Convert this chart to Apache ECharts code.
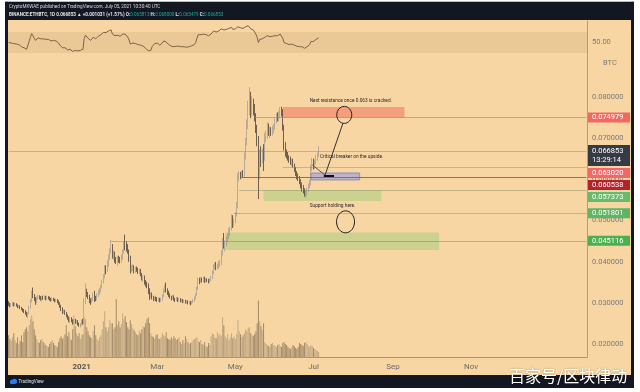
<!DOCTYPE html>
<html><head><meta charset="utf-8">
<script src="https://cdn.jsdelivr.net/npm/echarts@6/dist/echarts.min.js"></script>
<style>html,body{margin:0;padding:0;background:#fff}#c{width:640px;height:392px}</style>
</head><body><div id="c"></div>
<script>
// ---------- DATA ----------
const firstDate = '2020-11-05';
const axisDays = 452; // axis runs to 2022-01-30
const monthLabels = {'2021-01-01':'2021','2021-03-01':'Mar','2021-05-01':'May','2021-07-01':'Jul','2021-09-01':'Sep','2021-11-01':'Nov'};

// daily candles [open, close, low, high]
const nov = [[.0302,.0298,.0293,.0305],[.0298,.0295,.0290,.0301],[.0295,.0297,.0291,.0300],[.0297,.0300,.0294,.0303],[.0300,.0296,.0292,.0302],[.0296,.0298,.0293,.0301],[.0298,.0295,.0292,.0300],[.0295,.0291,.0288,.0297],[.0291,.0293,.0288,.0296],[.0293,.0289,.0286,.0295],[.0289,.0286,.0283,.0291],[.0286,.0283,.0279,.0288],[.0283,.0280,.0276,.0286],[.0280,.0276,.0272,.0283],[.0276,.0271,.0267,.0279],[.0271,.0275,.0264,.0278],[.0275,.0290,.0273,.0294],[.0290,.0305,.0287,.0310],[.0305,.0326,.0302,.0330],[.0326,.0318,.0312,.0338],[.0318,.0310,.0305,.0322],[.0310,.0302,.0296,.0315],[.0302,.0312,.0300,.0316],[.0312,.0316,.0308,.0320],[.0316,.0313,.0309,.0319],[.0313,.0310,.0306,.0317]];
const dec = [[.0310,.0314,.0305,.0318],[.0314,.0312,.0308,.0318],[.0312,.0315,.0309,.0319],[.0315,.0311,.0307,.0318],[.0311,.0314,.0308,.0317],[.0314,.0313,.0309,.0317],[.0313,.0310,.0306,.0316],[.0310,.0308,.0304,.0313],[.0308,.0311,.0305,.0314],[.0311,.0309,.0305,.0313],[.0309,.0306,.0302,.0311],[.0306,.0308,.0303,.0311],[.0308,.0304,.0300,.0310],[.0304,.0300,.0296,.0307],[.0300,.0293,.0289,.0302],[.0293,.0286,.0281,.0296],[.0286,.0278,.0274,.0290],[.0278,.0281,.0275,.0285],[.0281,.0276,.0272,.0284],[.0276,.0270,.0266,.0279],[.0270,.0265,.0260,.0273],[.0265,.0258,.0254,.0268],[.0258,.0263,.0252,.0266],[.0263,.0258,.0254,.0266],[.0258,.0252,.0248,.0261],[.0252,.0258,.0249,.0262],[.0258,.0254,.0250,.0262],[.0254,.0256,.0250,.0260],[.0256,.0250,.0246,.0259],[.0250,.0246,.0243,.0253],[.0246,.0249,.0241,.0252]];
const jan = [[.0249,.0256,.0245,.0260],[.0256,.0252,.0248,.0262],[.0252,.0305,.0250,.0312],[.0305,.0330,.0298,.0348],[.0330,.0322,.0315,.0335],[.0322,.0315,.0310,.0327],[.0315,.0306,.0300,.0320],[.0306,.0302,.0296,.0312],[.0302,.0310,.0300,.0314],[.0310,.0318,.0305,.0325],[.0318,.0312,.0303,.0330],[.0312,.0310,.0305,.0318],[.0310,.0320,.0307,.0325],[.0320,.0327,.0315,.0332],[.0327,.0330,.0320,.0337],[.0330,.0340,.0326,.0344],[.0340,.0352,.0336,.0356],[.0352,.0365,.0348,.0370],[.0365,.0385,.0360,.0392],[.0385,.0380,.0370,.0392],[.0380,.0395,.0375,.0405],[.0395,.0410,.0388,.0418],[.0410,.0425,.0405,.0433],[.0425,.0438,.0420,.0453],[.0438,.0415,.0408,.0443],[.0415,.0420,.0405,.0428],[.0420,.0405,.0398,.0425],[.0405,.0400,.0395,.0412],[.0400,.0410,.0390,.0414],[.0410,.0406,.0398,.0415],[.0406,.0402,.0396,.0412]];
const feb = [[.0402,.0412,.0398,.0418],[.0412,.0425,.0405,.0430],[.0425,.0445,.0420,.0450],[.0445,.0440,.0428,.0466],[.0440,.0437,.0425,.0450],[.0437,.0425,.0420,.0443],[.0425,.0410,.0400,.0430],[.0410,.0380,.0372,.0415],[.0380,.0385,.0375,.0392],[.0385,.0388,.0378,.0395],[.0388,.0378,.0372,.0392],[.0378,.0383,.0374,.0388],[.0383,.0381,.0376,.0389],[.0381,.0376,.0371,.0386],[.0376,.0380,.0370,.0384],[.0380,.0370,.0365,.0383],[.0370,.0360,.0355,.0373],[.0360,.0364,.0352,.0368],[.0364,.0350,.0345,.0367],[.0350,.0348,.0340,.0356],[.0348,.0342,.0336,.0352],[.0342,.0330,.0322,.0348],[.0330,.0318,.0308,.0336],[.0318,.0322,.0312,.0326],[.0322,.0314,.0309,.0326],[.0314,.0310,.0305,.0318],[.0310,.0312,.0306,.0316],[.0312,.0311,.0305,.0316]];
const mar = [[.0311,.0308,.0303,.0315],[.0308,.0310,.0304,.0314],[.0310,.0306,.0302,.0313],[.0306,.0309,.0303,.0313],[.0309,.0318,.0306,.0322],[.0318,.0330,.0315,.0335],[.0330,.0338,.0325,.0345],[.0338,.0332,.0326,.0350],[.0332,.0325,.0320,.0336],[.0325,.0320,.0315,.0330],[.0320,.0315,.0311,.0324],[.0315,.0312,.0307,.0318],[.0312,.0316,.0309,.0320],[.0316,.0310,.0306,.0319],[.0310,.0308,.0303,.0313],[.0308,.0312,.0305,.0315],[.0312,.0307,.0303,.0314],[.0307,.0310,.0304,.0313],[.0310,.0306,.0302,.0312],[.0306,.0308,.0303,.0311],[.0308,.0304,.0300,.0310],[.0304,.0306,.0301,.0309],[.0306,.0302,.0299,.0308],[.0302,.0305,.0299,.0308],[.0305,.0301,.0297,.0307],[.0301,.0303,.0298,.0306],[.0303,.0299,.0295,.0305],[.0299,.0303,.0297,.0306],[.0303,.0306,.0300,.0310],[.0306,.0312,.0303,.0316],[.0312,.0320,.0309,.0324]];
const apr = [[.0320,.0335,.0318,.0340],[.0335,.0356,.0332,.0362],[.0356,.0352,.0346,.0362],[.0352,.0358,.0349,.0363],[.0358,.0355,.0350,.0362],[.0355,.0360,.0351,.0365],[.0360,.0354,.0349,.0364],[.0354,.0357,.0350,.0361],[.0357,.0355,.0351,.0360],[.0355,.0352,.0348,.0359],[.0352,.0356,.0349,.0360],[.0356,.0362,.0353,.0366],[.0362,.0375,.0358,.0380],[.0375,.0388,.0370,.0395],[.0388,.0392,.0382,.0398],[.0392,.0386,.0380,.0400],[.0386,.0390,.0382,.0396],[.0390,.0395,.0383,.0402],[.0395,.0398,.0388,.0405],[.0398,.0420,.0392,.0428],[.0420,.0450,.0415,.0458],[.0450,.0438,.0432,.0470],[.0438,.0445,.0425,.0452],[.0445,.0455,.0438,.0462],[.0455,.0462,.0448,.0470],[.0462,.0470,.0455,.0482],[.0470,.0478,.0463,.0485],[.0478,.0508,.0475,.0515],[.0508,.0490,.0482,.0513],[.0490,.0498,.0485,.0505]];
const may = [[.0498,.0515,.0494,.0520],[.0515,.0535,.0510,.0545],[.0535,.0605,.0530,.0615],[.0605,.0612,.0595,.0620],[.0612,.0606,.0600,.0618],[.0606,.0615,.0602,.0620],[.0615,.0610,.0604,.0622],[.0610,.0655,.0606,.0665],[.0655,.0690,.0648,.0700],[.0690,.0730,.0682,.0745],[.0730,.0765,.0722,.0790],[.0765,.0795,.0755,.0823],[.0795,.0760,.0748,.0812],[.0760,.0780,.0752,.0802],[.0780,.0770,.0755,.0795],[.0770,.0752,.0740,.0782],[.0752,.0725,.0712,.0760],[.0725,.0690,.0680,.0732],[.0690,.0612,.0552,.0705],[.0612,.0660,.0600,.0672],[.0660,.0645,.0630,.0680],[.0645,.0668,.0638,.0675],[.0668,.0650,.0620,.0685],[.0650,.0700,.0645,.0712],[.0700,.0705,.0690,.0718],[.0705,.0730,.0698,.0738],[.0730,.0712,.0705,.0735],[.0712,.0718,.0700,.0728],[.0718,.0712,.0705,.0726],[.0712,.0722,.0706,.0730],[.0722,.0728,.0712,.0734]];
const jun = [[.0728,.0740,.0720,.0748],[.0740,.0752,.0735,.0760],[.0752,.0748,.0740,.0762],[.0748,.0755,.0740,.0765],[.0755,.0768,.0748,.0775],[.0768,.0762,.0752,.0776],[.0762,.0725,.0718,.0770],[.0725,.0680,.0670,.0732],[.0680,.0665,.0655,.0690],[.0665,.0660,.0650,.0672],[.0660,.0652,.0645,.0666],[.0652,.0648,.0640,.0658],[.0648,.0640,.0635,.0655],[.0640,.0645,.0632,.0650],[.0645,.0632,.0628,.0650],[.0632,.0625,.0618,.0638],[.0625,.0615,.0608,.0630],[.0615,.0608,.0600,.0620],[.0608,.0602,.0596,.0614],[.0602,.0594,.0588,.0608],[.0594,.0585,.0578,.0600],[.0585,.0578,.0570,.0592],[.0578,.0572,.0566,.0586],[.0572,.0565,.0558,.0578],[.0565,.0568,.0555,.0574],[.0568,.0575,.0560,.0580],[.0575,.0585,.0570,.0590],[.0585,.0590,.0578,.0598],[.0590,.0628,.0585,.0635],[.0628,.0645,.0620,.0652]];
const jul = [[.0645,.0630,.0624,.0650],[.0630,.0640,.0625,.0648],[.0640,.0650,.0636,.0658],[.0650,.065822,.0645,.0665],[.065813,.066853,.065479,.068000]];

// daily volume (thousand ETH)
const volNov = [440,360,320,400,480,340,280,400,260,320,440,300,500,560,600,520,640,760,840,720,560,440,360,300,280,340];
const volDec = [360,300,280,240,220,200,260,300,340,280,240,220,200,300,380,420,360,400,460,640,420,500,380,340,560,840,620,480,420,480,360];
const volJan = [440,460,800,760,600,520,440,400,380,520,640,440,360,320,400,440,560,720,920,600,520,600,740,680,680,560,600,1170,640,720,600];
const volFeb = [660,880,760,820,700,600,560,740,660,580,540,500,460,440,540,480,560,620,600,680,760,800,680,480,420,400,360,440];
const volMar = [460,380,360,400,480,440,420,500,380,360,340,400,360,420,380,340,360,400,300,260,340,280,420,360,300,260,280,300,340,360,380];
const volApr = [400,320,300,340,260,240,300,220,200,280,240,420,480,460,400,380,500,440,460,420,800,640,420,380,460,340,400,480,380,420];
const volMay = [360,460,740,520,460,400,440,480,560,520,580,600,480,440,420,460,520,680,1140,720,620,540,680,300,260,240,220,200,260,280,240];
const volJun = [220,200,240,260,220,200,280,300,260,240,200,180,160,200,240,220,180,160,200,280,260,240,220,280,300,260,220,200,240,220];
const volJul = [180,160,140,120,100];

// RSI(14)
const rsiNov = [50,48,49,51,48,49,47,45,46,44,42,41,40,39,37,40,52,60,67,63,58,54,57,59,58,57];
const rsiDec = [58,57,58,56,57,56,55,53,55,54,52,53,51,49,45,42,40,42,40,38,36,34,37,35,33,36,35,36,34,33,35];
const rsiJan = [38,37,58,64,61,58,55,54,57,60,58,57,60,62,63,65,67,69,71,69,71,72,73,74,66,67,63,62,64,63,62];
const rsiFeb = [64,66,68,66,65,60,55,47,48,49,46,48,47,46,47,45,42,43,40,39,37,34,32,35,42,44,48,50];
const rsiMar = [49,47,45,46,49,53,55,51,48,46,44,43,45,42,41,43,42,43,41,42,40,42,40,41,39,42,41,44,45,46,50];
const rsiApr = [58,65,63,65,64,66,64,65,64,63,65,66,69,72,72,70,71,72,73,76,78,74,75,75,76,77,76,79,75,76];
const rsiMay = [76,77,80,79,78,79,77,78,80,81,82,83,76,78,74,70,66,60,50,56,54,57,55,60,60,63,60,61,60,62,62];
const rsiJun = [63,64,63,64,66,65,58,50,49,48,47,46,45,47,44,45,44,43,44,42,41,42,40,39,40,42,44,46,52,55];
const rsiJul = [52,54,56,57,59];

// price tags on the axis
const tags = [
  {v:0.074979, color:'#ef6a63'},
  {v:0.066853, color:'#363a45', sub:'13:29:14'},
  {v:0.063020, color:'#f06868'},
  {v:0.060538, color:'#b3222d'},
  {v:0.057373, color:'#69ba6c'},
  {v:0.051801, color:'#5fb564'},
  {v:0.045116, color:'#4caf50'}
];
// drawn horizontal rays [price, start date, colour]
const rays = [
  [0.074979,'2021-05-16','rgba(200,110,100,0.6)'],
  [0.066853,'2020-11-05','rgba(120,120,120,0.4)'],
  [0.063020,'2021-06-07','rgba(200,110,100,0.45)'],
  [0.060538,'2021-05-06','rgba(185,70,50,0.85)'],
  [0.057373,'2021-05-04','rgba(120,140,100,0.45)'],
  [0.051801,'2021-04-30','rgba(120,140,100,0.45)'],
  [0.045116,'2021-01-24','rgba(120,140,100,0.5)']
];
// drawn boxes [start, top, end, bottom, fill, border]
const boxes = [
  ['2021-06-07',0.0775,'2021-09-10',0.07498,'rgba(240,90,75,0.45)',null],
  ['2021-06-29',0.06152,'2021-08-06',0.05985,'rgba(110,130,250,0.42)','#7b80c8'],
  ['2021-05-23',0.05737,'2021-08-23',0.05472,'rgba(150,205,120,0.45)',null],
  ['2021-04-23',0.0471,'2021-10-07',0.0429,'rgba(150,205,120,0.45)',null]
];
const notes = [
  ['2021-06-28',0.0790,'Next resistance once 0.063 is cracked.'],
  ['2021-07-06',0.0654,'Critical breaker on the upside.'],
  ['2021-06-28',0.0535,'Support holding here.']
];
const circles = [['2021-07-25',0.0756,7.5,8.5],['2021-07-26',0.0497,9,11]];
const strokes = [
  [['2021-07-24',0.0736],['2021-07-10',0.0610],1,'#333'],
  [['2021-06-30',0.0635],['2021-07-10',0.0610],1,'#555'],
  [['2021-07-09',0.0608],['2021-07-17',0.0608],2,'#111']
];

// ---------- BUILD ----------
const dates = [];
const d0 = Date.parse(firstDate + 'T00:00:00Z');
for (let i = 0; i < axisDays; i++) dates.push(new Date(d0 + i * 86400000).toISOString().slice(0, 10));

const ohlc = [].concat(nov, dec, jan, feb, mar, apr, may, jun, jul);
const vol = [].concat(volNov, volDec, volJan, volFeb, volMar, volApr, volMay, volJun, volJul);
const rsi = [].concat(rsiNov, rsiDec, rsiJan, rsiFeb, rsiMar, rsiApr, rsiMay, rsiJun, rsiJul);

const volData = vol.map((v, i) => ({value: v, itemStyle: {color: ohlc[i][1] >= ohlc[i][0] ? 'rgba(150,132,108,0.55)' : 'rgba(105,88,66,0.6)'}}));
const lastDate = dates[dates.length - 1];

const chart = echarts.init(document.getElementById('c'));
const axisCol = '#b09c80';
chart.setOption({
  animation: false,
  backgroundColor: '#f8d6a3',
  grid: [{left: 8, right: 53, top: 21, height: 36}, {left: 8, right: 53, top: 57, height: 300}],
  xAxis: [
    {type: 'category', gridIndex: 0, data: dates, boundaryGap: true, show: false},
    {type: 'category', gridIndex: 1, data: dates, boundaryGap: true,
     axisLine: {lineStyle: {color: '#a8967c'}}, axisTick: {show: false}, splitLine: {show: false},
     axisLabel: {interval: (i, v) => !!monthLabels[v],
       formatter: v => v === '2021-01-01' ? '{b|2021}' : (monthLabels[v] || ''),
       color: '#6b6b6b', fontSize: 8, fontFamily: 'Roboto', margin: 6,
       rich: {b: {fontWeight: 'bold', fontSize: 8, color: '#555', fontFamily: 'Roboto'}}}}
  ],
  yAxis: [
    {type: 'value', gridIndex: 0, position: 'right', min: 22.4, max: 91,
     axisLine: {show: true, lineStyle: {color: axisCol}}, axisLabel: {show: false}, axisTick: {show: false}, splitLine: {show: false}},
    {type: 'value', gridIndex: 1, position: 'right', min: 0.01697, max: 0.08961, splitNumber: 7,
     axisLine: {show: true, lineStyle: {color: axisCol}}, axisTick: {show: false}, splitLine: {show: false},
     axisLabel: {color: '#7a7a7a', fontSize: 7.5, fontFamily: 'Roboto', margin: 5,
       formatter: v => Math.abs(v * 100 - Math.round(v * 100)) < 1e-6 && v < 0.085 ? v.toFixed(6) : ''}},
    {type: 'value', gridIndex: 1, min: 0, max: 6040, show: false}
  ],
  series: [
    {type: 'line', xAxisIndex: 0, yAxisIndex: 0, data: rsi, showSymbol: false, silent: true,
     lineStyle: {color: '#7d6246', width: 1},
     markArea: {silent: true, itemStyle: {color: 'rgba(150,110,60,0.12)'}, data: [[{yAxis: 30}, {yAxis: 70}]]}},
    {type: 'bar', xAxisIndex: 1, yAxisIndex: 2, data: volData, barWidth: 1, silent: true, z: 1},
    {type: 'candlestick', xAxisIndex: 1, yAxisIndex: 1, data: ohlc, barWidth: 1, z: 3,
     itemStyle: {color: '#c6c6c6', color0: '#121212', borderColor: '#8e8e8e', borderColor0: '#121212', borderWidth: 0.6},
     markLine: {silent: true, symbol: ['none', 'none'], label: {show: false},
       data: rays.map(r => [{coord: [r[1], r[0]], lineStyle: {color: r[2], width: 1, type: 'solid'}}, {coord: [lastDate, r[0]]}])},
     markArea: {silent: true,
       data: boxes.map(b => [{coord: [b[0], b[1]], itemStyle: {color: b[4], borderColor: b[5] || 'transparent', borderWidth: b[5] ? 0.8 : 0}}, {coord: [b[2], b[3]]}])}}
  ]
});

// ---------- ANNOTATIONS / FRAME ----------
const P = (d, p) => chart.convertToPixel({seriesIndex: 2}, [dates.indexOf(d), p]);
const g = [];
// price tags stacked like the platform does
let prevBottom = -1e9;
tags.forEach(t => {
  const y = chart.convertToPixel({yAxisIndex: 1}, t.v);
  const h = t.sub ? 21 : 10;
  let top = t.sub ? y - 6 : y - 5;
  if (top < prevBottom + 2) top = prevBottom + 2;
  prevBottom = top + h;
  g.push({type: 'rect', z: 100, shape: {x: 588, y: top, width: 42, height: h}, style: {fill: t.color}});
  g.push({type: 'text', z: 101, style: {text: t.v.toFixed(6), x: 592, y: top + (t.sub ? 6 : 5), fill: '#fff', fontSize: 7.5, fontFamily: 'Roboto', verticalAlign: 'middle'}});
  if (t.sub) g.push({type: 'text', z: 101, style: {text: t.sub, x: 592, y: top + 15.5, fill: '#fff', fontSize: 7.5, fontFamily: 'Roboto', verticalAlign: 'middle'}});
});
// RSI mid label
const y50 = chart.convertToPixel({yAxisIndex: 0}, 50);
g.push({type: 'text', z: 50, style: {text: '50.00', x: 592, y: y50, fill: '#7a7a7a', fontSize: 7.5, fontFamily: 'Roboto', verticalAlign: 'middle'}});
g.push({type: 'text', z: 50, style: {text: 'BTC', x: 603, y: 63, fill: '#7a7a7a', fontSize: 7.5, fontFamily: 'Roboto', verticalAlign: 'middle'}});
// notes
notes.forEach(n => {
  const [x, y] = P(n[0], n[1]);
  g.push({type: 'text', z: 60, style: {text: n[2], x: x, y: y, fill: '#2b2b2b', fontSize: 4.8, fontFamily: 'Roboto', verticalAlign: 'middle'}});
});
circles.forEach(c => {
  const [x, y] = P(c[0], c[1]);
  g.push({type: 'ellipse', z: 60, shape: {cx: x, cy: y, rx: c[2], ry: c[3]}, style: {fill: 'none', stroke: '#222', lineWidth: 1}});
});
strokes.forEach(s => {
  const a = P(s[0][0], s[0][1]), b = P(s[1][0], s[1][1]);
  g.push({type: 'line', z: 60, shape: {x1: a[0], y1: a[1], x2: b[0], y2: b[1]}, style: {stroke: s[3], lineWidth: s[2]}});
});
// screenshot frame
const dark = '#131722';
g.push({type: 'rect', z: 200, shape: {x: 0, y: 0, width: 640, height: 1.5}, style: {fill: '#fff'}});
g.push({type: 'rect', z: 200, shape: {x: 0, y: 0, width: 5, height: 392}, style: {fill: '#fff'}});
g.push({type: 'rect', z: 200, shape: {x: 634, y: 0, width: 6, height: 392}, style: {fill: '#fff'}});
g.push({type: 'rect', z: 200, shape: {x: 0, y: 388, width: 640, height: 4}, style: {fill: '#fff'}});
g.push({type: 'rect', z: 199, shape: {x: 5, y: 1.5, width: 629, height: 18.5}, style: {fill: dark}});
g.push({type: 'rect', z: 199, shape: {x: 5, y: 1.5, width: 3, height: 387}, style: {fill: dark}});
g.push({type: 'rect', z: 199, shape: {x: 631, y: 1.5, width: 3, height: 387}, style: {fill: dark}});
g.push({type: 'rect', z: 199, shape: {x: 5, y: 375, width: 629, height: 13}, style: {fill: dark}});
g.push({type: 'text', z: 201, style: {text: 'CryptoMKWAE published on TradingView.com, July 05, 2021 10:30:40 UTC', x: 9, y: 6.5, fill: '#d8d8d8', fontSize: 4.6, fontFamily: 'Roboto', verticalAlign: 'middle'}});
g.push({type: 'text', z: 201, style: {
  text: '{w|BINANCE:ETHBTC, 1D 0.066853 ▲ +0.001031 (+1.57%) O:}{t|0.065813}{w| H:}{t|0.068000}{w| L:}{t|0.065479}{w| C:}{t|0.066853}',
  x: 9, y: 14.5, verticalAlign: 'middle',
  rich: {w: {fill: '#e6e6e6', fontSize: 4.6, fontFamily: 'Roboto', fontWeight: 'bold'}, t: {fill: '#26a69a', fontSize: 4.6, fontFamily: 'Roboto'}}}});
g.push({type: 'circle', z: 201, shape: {cx: 12, cy: 382, r: 2.2}, style: {fill: '#2e7bf6'}});
g.push({type: 'circle', z: 201, shape: {cx: 14.5, cy: 381.3, r: 2.6}, style: {fill: '#2e7bf6'}});
g.push({type: 'text', z: 201, style: {text: 'TradingView', x: 18.5, y: 382, fill: '#e0e0e0', fontSize: 4.6, fontFamily: 'Roboto', verticalAlign: 'middle'}});
g.push({type: 'text', z: 210, style: {text: '百家号/区块律动', x: 509, y: 376, fill: '#ffffff', fontSize: 16, fontFamily: 'Noto Sans CJK SC', verticalAlign: 'middle', textShadowColor: 'rgba(0,0,0,0.35)', textShadowBlur: 2}});
chart.setOption({graphic: g});
</script>
</body></html>
